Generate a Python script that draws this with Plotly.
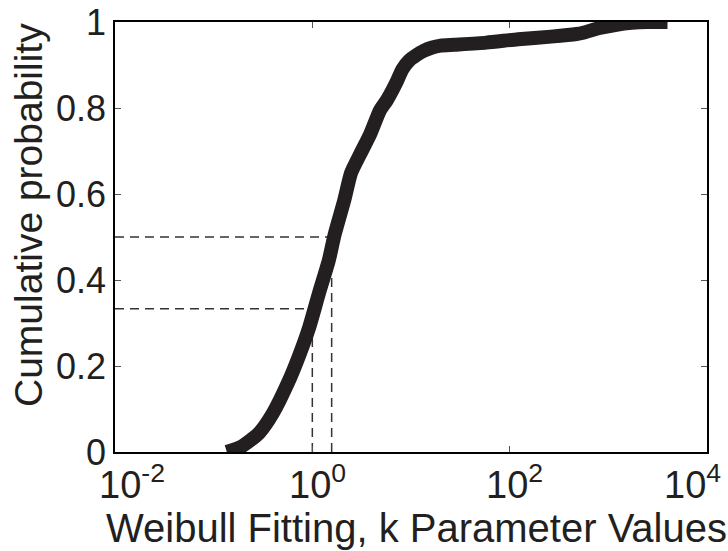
import math
import plotly.graph_objects as go

k_values = [0.136, 0.189, 0.288, 0.398, 0.564, 0.723, 0.93, 1.17, 1.47, 1.68,
            2.11, 2.47, 3.09, 3.87, 4.86, 5.69, 7.13, 8.17, 9.55, 11.2,
            13.5, 16.1, 20.0, 27.6, 58.0, 122, 263, 475, 556, 814,
            1170, 1720, 2500, 3980]
cdf = [0.0, 0.012, 0.044, 0.09, 0.16, 0.22, 0.29, 0.37, 0.446, 0.505,
       0.586, 0.649, 0.695, 0.74, 0.795, 0.818, 0.86, 0.89, 0.91, 0.922,
       0.933, 0.94, 0.945, 0.947, 0.952, 0.96, 0.966, 0.972, 0.975, 0.986,
       0.993, 0.998, 1.0, 1.0]

# Reference quantiles (dashed guide lines)
guide_probs = [1 / 3, 0.5]
guide_k = [1.0, 1.57]

x_tickvals = [1e-2, 1e0, 1e2, 1e4]
x_ticktext = ["10<sup>-2</sup>", "10<sup>0</sup>", "10<sup>2</sup>", "10<sup>4</sup>"]
y_tickvals = [0, 0.2, 0.4, 0.6, 0.8, 1.0]
y_ticktext = ["0", "0.2", "0.4", "0.6", "0.8", "1"]

FONT = "Liberation Sans, Arial, Helvetica, sans-serif"
INK = "#231f20"

fig = go.Figure()

# dashed guides
for p, k in zip(guide_probs, guide_k):
    fig.add_trace(go.Scatter(x=[1e-2, k], y=[p, p], mode="lines",
                             line=dict(color="#333333", width=1.5, dash="9px,6px"),
                             hoverinfo="skip", showlegend=False))
    fig.add_trace(go.Scatter(x=[k, k], y=[0, p], mode="lines",
                             line=dict(color="#333333", width=1.5, dash="9px,6px"),
                             hoverinfo="skip", showlegend=False))

fig.add_trace(go.Scatter(x=k_values, y=cdf, mode="lines",
                         line=dict(color=INK, width=14, shape="spline", smoothing=0.6),
                         showlegend=False))

fig.update_xaxes(type="log", range=[-2, 4], tickvals=x_tickvals, showticklabels=False,
                 ticks="inside", ticklen=6, tickcolor="#555555", tickwidth=1,
                 showline=True, linecolor="black", linewidth=1.5, mirror="allticks",
                 showgrid=False, zeroline=False, automargin=False)
fig.update_yaxes(range=[0, 1], tickvals=y_tickvals, ticktext=y_ticktext,
                 ticks="inside", ticklen=6, tickcolor="#555555", tickwidth=1,
                 showline=True, linecolor="black", linewidth=1.5, mirror="allticks",
                 showgrid=False, zeroline=False, automargin=False,
                 tickfont=dict(family=FONT, size=36, color=INK))

# x tick labels (end labels nudged inward, as in the reference)
n = len(x_tickvals)
for i, (v, t) in enumerate(zip(x_tickvals, x_ticktext)):
    if i == 0:
        anchor, shift = "left", -18
    elif i == n - 1:
        anchor, shift = "right", 16
    else:
        anchor, shift = "center", 5
    fig.add_annotation(text=t, xref="x", yref="paper", x=math.log10(v), y=0,
                       xanchor=anchor, yanchor="top", xshift=shift, yshift=-4,
                       showarrow=False, font=dict(family=FONT, size=38, color=INK))

fig.add_annotation(text="Cumulative probability", xref="paper", yref="paper",
                   x=(28 - 115) / 592, y=(452 - 215) / 430, textangle=-90,
                   xanchor="center", yanchor="middle", showarrow=False,
                   font=dict(family=FONT, size=39, color=INK))
fig.add_annotation(text="Weibull Fitting, k Parameter Values", xref="paper", yref="paper",
                   x=(416 - 115) / 592, y=(452 - 528) / 430,
                   xanchor="center", yanchor="middle", showarrow=False,
                   font=dict(family=FONT, size=40, color=INK))

fig.update_layout(width=728, height=551, margin=dict(l=115, r=21, t=22, b=99),
                  plot_bgcolor="white", paper_bgcolor="white")

fig.write_html("out.html")
